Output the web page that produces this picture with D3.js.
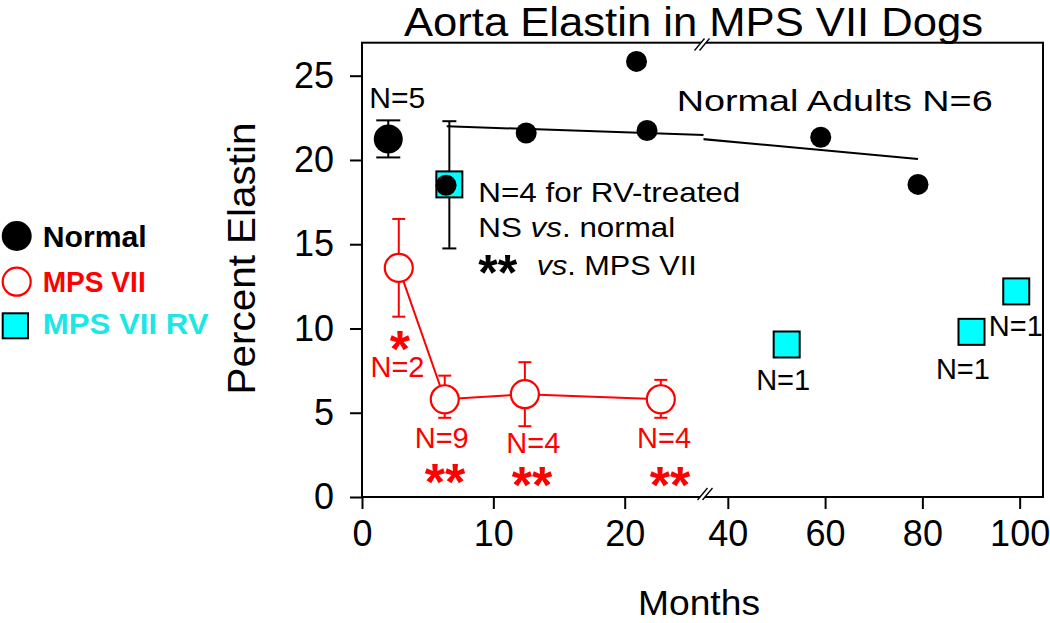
<!DOCTYPE html>
<html><head><meta charset="utf-8">
<script src="https://cdn.jsdelivr.net/npm/d3@7"></script>
<style>
body{margin:0;background:#fff}
text{font-family:"Liberation Sans",Arial,Helvetica,sans-serif}
</style>
</head><body>
<svg id="chart" width="1050" height="623"></svg>
<script>
// ---------- data ----------
const yTicks = [0, 5, 10, 15, 20, 25];
const xTicksLeft = [0, 10, 20];
const xTicksRight = [40, 60, 80, 100];

const normalMeanMonth = [2.0];
const normalMeanValue = [21.25];
const normalMeanLow = [20.15];
const normalMeanHigh = [22.35];

const adultMonths = [6.4, 12.5, 20.9, 21.7, 59.1, 79.1];
const adultValues = [18.5, 21.6, 25.85, 21.75, 21.35, 18.55];

const trendMonths = [6.45, 79.1];
const trendValues = [22.0, 20.05];

const mpsMonths = [2.8, 6.3, 12.4, 22.75];
const mpsValues = [13.6, 5.8, 6.1, 5.8];
const mpsLow = [10.7, 4.7, 4.2, 4.7];
const mpsHigh = [16.5, 7.2, 8.0, 6.95];
const mpsN = ["N=2", "N=9", "N=4", "N=4"];
const mpsSig = ["*", "**", "**", "**"];

const rvMonths = [6.65, 52.1, 90.1, 99.3];
const rvValues = [18.55, 9.05, 9.8, 12.2];
const rvLow = [14.75, null, null, null];
const rvHigh = [22.3, null, null, null];
const rvN = [null, "N=1", "N=1", "N=1"];

// ---------- scales ----------
const leftMax = 26, rightMin = 35;
const xL = d3.scaleLinear().domain([0, leftMax]).range([362, 703.5]);
const xR = d3.scaleLinear().domain([rightMin, 104.8]).range([703.5, 1043]);
const x = m => (m <= leftMax ? xL(m) : xR(m));
const y = d3.scaleLinear().domain([0, 27]).range([497, 42]);

const svg = d3.select("#chart");
const RED = "#ff0000", CYAN = "#00ffff", CYANTXT = "#1ce6e6";

// title
svg.append("text").attr("x", 404).attr("y", 36).attr("font-size", 40)
  .attr("textLength", 579).attr("lengthAdjust", "spacingAndGlyphs")
  .text("Aorta Elastin in MPS VII Dogs");

// clip paths for the broken axis
const defs = svg.append("defs");
defs.append("clipPath").attr("id", "clipL").append("rect")
  .attr("x", 362).attr("y", 40).attr("width", 703.5 - 362).attr("height", 460);
defs.append("clipPath").attr("id", "clipR").append("rect")
  .attr("x", 703.5).attr("y", 40).attr("width", 1043 - 703.5).attr("height", 460);

// axes
const yAxis = d3.axisLeft(y).tickValues(yTicks).tickSize(12).tickPadding(16);
const gy = svg.append("g").attr("transform", "translate(362,0)").call(yAxis);
const xAxL = d3.axisBottom(xL).tickValues(xTicksLeft).tickSize(12).tickPadding(11);
const xAxR = d3.axisBottom(xR).tickValues(xTicksRight).tickSize(12).tickPadding(11);
const gxl = svg.append("g").attr("transform", "translate(0,497)").call(xAxL);
const gxr = svg.append("g").attr("transform", "translate(0,497)").call(xAxR);
[gy, gxl, gxr].forEach(g => {
  g.select(".domain").remove();
  g.selectAll(".tick line").attr("stroke", "#000").attr("stroke-width", 2);
  g.selectAll(".tick text").attr("font-size", 36).attr("fill", "#000")
    .attr("font-family", "'Liberation Sans',Arial,sans-serif");
});

// plot box
svg.append("rect").attr("x", 362).attr("y", 42.7).attr("width", 1043 - 362).attr("height", 497 - 42.7)
  .attr("fill", "none").attr("stroke", "#000").attr("stroke-width", 2);

// break marks
function brk(cx, cy) {
  const g = svg.append("g");
  g.append("polygon").attr("points", `${cx-7},${cy+6} ${cx+3},${cy-6} ${cx+7},${cy-6} ${cx-3},${cy+6}`)
    .attr("fill", "#fff");
  [-2.5, 2.5].forEach(o => g.append("line")
    .attr("x1", cx - 5 + o).attr("y1", cy + 6).attr("x2", cx + 5 + o).attr("y2", cy - 6)
    .attr("stroke", "#000").attr("stroke-width", 1.3));
}
brk(702, 44.5);
brk(705, 494);

// axis titles
svg.append("text").attr("x", 638).attr("y", 615).attr("font-size", 35)
  .attr("textLength", 122).attr("lengthAdjust", "spacingAndGlyphs").text("Months");
svg.append("text").attr("transform", "translate(255,258.5) rotate(-90)")
  .attr("text-anchor", "middle").attr("font-size", 38)
  .attr("textLength", 272).attr("lengthAdjust", "spacingAndGlyphs").text("Percent Elastin");

// normal-adult trend line, drawn on each side of the break
const trend = trendMonths.map((m, i) => [m, trendValues[i]]);
svg.append("path").attr("clip-path", "url(#clipL)")
  .attr("d", d3.line().x(d => xL(d[0])).y(d => y(d[1]))(trend))
  .attr("stroke", "#000").attr("stroke-width", 2).attr("fill", "none");
svg.append("path").attr("clip-path", "url(#clipR)")
  .attr("d", d3.line().x(d => xR(d[0])).y(d => y(d[1]))(trend))
  .attr("stroke", "#000").attr("stroke-width", 2).attr("fill", "none");

// helper for error bars
function errBar(mx, lo, hi, cap, color) {
  const cx = x(mx);
  svg.append("line").attr("x1", cx).attr("x2", cx).attr("y1", y(lo)).attr("y2", y(hi))
    .attr("stroke", color).attr("stroke-width", 2);
  [lo, hi].forEach(v => svg.append("line").attr("x1", cx - cap / 2).attr("x2", cx + cap / 2)
    .attr("y1", y(v)).attr("y2", y(v)).attr("stroke", color).attr("stroke-width", 2));
}

// MPS VII line + error bars + circles
svg.append("path")
  .attr("d", d3.line().x((d, i) => x(mpsMonths[i])).y(d => y(d))(mpsValues))
  .attr("stroke", RED).attr("stroke-width", 2).attr("fill", "none");
mpsMonths.forEach((m, i) => errBar(m, mpsLow[i], mpsHigh[i], 13, RED));
svg.selectAll(".mps").data(mpsValues).enter().append("circle")
  .attr("cx", (d, i) => x(mpsMonths[i])).attr("cy", d => y(d)).attr("r", 14)
  .attr("fill", "#fff").attr("stroke", RED).attr("stroke-width", 2.2);

// normal mean with error bar
errBar(normalMeanMonth[0], normalMeanLow[0], normalMeanHigh[0], 24, "#000");
svg.append("circle").attr("cx", x(normalMeanMonth[0])).attr("cy", y(normalMeanValue[0]))
  .attr("r", 14.5).attr("fill", "#000");

// RV-treated
rvMonths.forEach((m, i) => { if (rvLow[i] != null) errBar(m, rvLow[i], rvHigh[i], 14, "#000"); });
svg.selectAll(".rv").data(rvValues).enter().append("rect")
  .attr("x", (d, i) => x(rvMonths[i]) - 13).attr("y", d => y(d) - 13)
  .attr("width", 26).attr("height", 26)
  .attr("fill", CYAN).attr("stroke", "#000").attr("stroke-width", 2);

// normal adults
svg.selectAll(".adult").data(adultValues).enter().append("circle")
  .attr("cx", (d, i) => x(adultMonths[i])).attr("cy", d => y(d)).attr("r", 10.5)
  .attr("fill", "#000");

// ---------- annotations ----------
svg.append("text").attr("x", x(normalMeanMonth[0]) + 9).attr("y", 108.3).attr("text-anchor", "middle")
  .attr("font-size", 30).attr("textLength", 56).attr("lengthAdjust", "spacingAndGlyphs").text("N=5");
svg.append("text").attr("x", 676.7).attr("y", 110.7).attr("font-size", 30)
  .attr("textLength", 316).attr("lengthAdjust", "spacingAndGlyphs").text("Normal Adults N=6");

const ann = svg.append("g").attr("font-size", 28);
ann.append("text").attr("x", 478.3).attr("y", 201.7).attr("textLength", 262)
  .attr("lengthAdjust", "spacingAndGlyphs").text("N=4 for RV-treated");
const l2 = ann.append("text").attr("x", 478.3).attr("y", 237.3).attr("textLength", 197)
  .attr("lengthAdjust", "spacingAndGlyphs");
l2.append("tspan").text("NS ");
l2.append("tspan").attr("font-style", "italic").text("vs");
l2.append("tspan").text(". normal");
ann.append("text").attr("x", 478.3).attr("y", 290).attr("font-size", 50).attr("font-weight", "bold")
  .attr("textLength", 39).attr("lengthAdjust", "spacingAndGlyphs").text("**");
const l3 = ann.append("text").attr("x", 536.7).attr("y", 275).attr("textLength", 160)
  .attr("lengthAdjust", "spacingAndGlyphs");
l3.append("tspan").attr("font-style", "italic").text("vs");
l3.append("tspan").text(". MPS VII");

// MPS VII labels
const nDx = [-1.3, -3, 8.4, 3.2];
const nY = [376.7, 448.3, 453.3, 448.3];
const sDx = [1.2, 0.2, 7.1, 9.2];
const sMid = [336.7, 470, 473, 473];
mpsN.forEach((t, i) => {
  svg.append("text").attr("x", x(mpsMonths[i]) + nDx[i]).attr("y", nY[i])
    .attr("text-anchor", "middle").attr("font-size", 29).attr("fill", RED).text(t);
  svg.append("text").attr("x", x(mpsMonths[i]) + sDx[i]).attr("y", sMid[i] + 30)
    .attr("text-anchor", "middle").attr("font-size", 52).attr("font-weight", "bold")
    .attr("fill", RED).text(mpsSig[i]);
});

// RV labels
const rvDx = [0, -3.5, -8.6, -0.4];
const rvY = [0, 390, 379, 336];
rvN.forEach((t, i) => {
  if (!t) return;
  svg.append("text").attr("x", x(rvMonths[i]) + rvDx[i]).attr("y", rvY[i])
    .attr("text-anchor", "middle").attr("font-size", 29).text(t);
});

// ---------- legend ----------
const lg = svg.append("g");
lg.append("circle").attr("cx", 16.7).attr("cy", 236).attr("r", 15).attr("fill", "#000");
lg.append("text").attr("x", 42.7).attr("y", 246.7).attr("font-size", 30).attr("font-weight", "bold")
  .attr("textLength", 104).attr("lengthAdjust", "spacingAndGlyphs").text("Normal");
lg.append("circle").attr("cx", 16.7).attr("cy", 281.7).attr("r", 14).attr("fill", "#fff")
  .attr("stroke", RED).attr("stroke-width", 2.2);
lg.append("text").attr("x", 42.7).attr("y", 291.7).attr("font-size", 29).attr("font-weight", "bold")
  .attr("fill", RED).attr("textLength", 103).attr("lengthAdjust", "spacingAndGlyphs").text("MPS VII");
lg.append("rect").attr("x", 2.7).attr("y", 313.3).attr("width", 25.3).attr("height", 25)
  .attr("fill", CYAN).attr("stroke", "#000").attr("stroke-width", 2);
lg.append("text").attr("x", 42.7).attr("y", 334).attr("font-size", 29).attr("font-weight", "bold")
  .attr("fill", CYANTXT).attr("textLength", 166).attr("lengthAdjust", "spacingAndGlyphs").text("MPS VII RV");
</script>
</body></html>
